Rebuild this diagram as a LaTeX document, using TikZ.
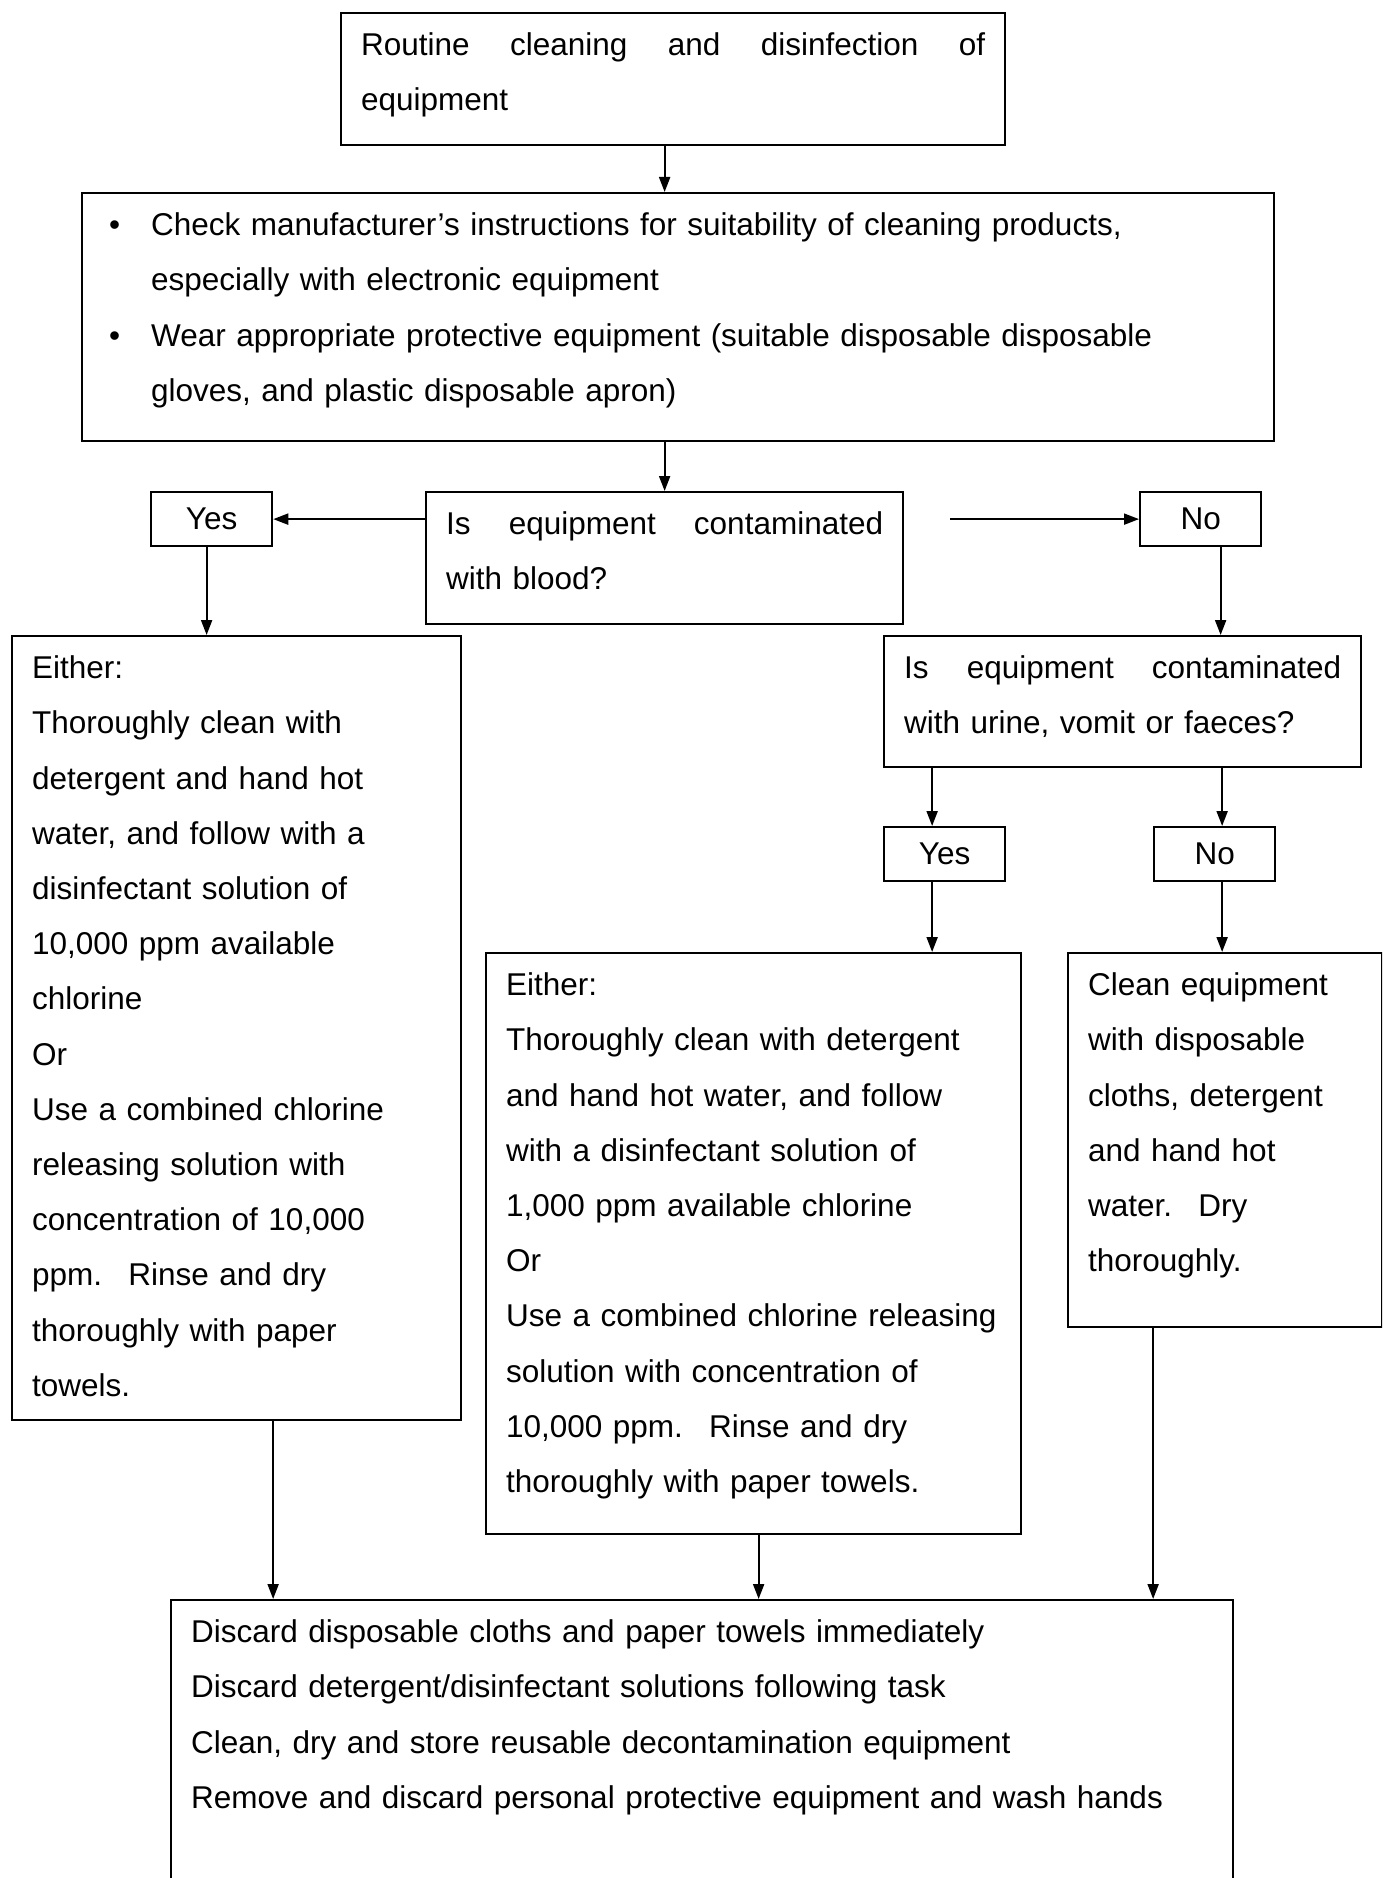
\documentclass[tikz,border=0pt]{standalone}
\usepackage{fontspec}
\setmainfont{Liberation Sans}
\usetikzlibrary{arrows.meta}
\tikzstyle{box}=[draw, line width=0.9pt, anchor=north west, align=left, inner xsep=8pt, inner ysep=8pt, text height=9pt]
\tikzstyle{answer}=[draw, line width=0.9pt, anchor=north west, inner sep=0pt, minimum width=48.4pt, minimum height=21.6pt]
\tikzstyle{link}=[line width=0.8pt, -{Triangle[length=6pt,width=4.4pt]}]
\newcommand{\spread}[1]{\makebox[\hsize][s]{\spaceskip=0.28em plus 1fil #1}}
\newcommand{\bul}{\leavevmode\llap{\makebox[18.8pt][l]{\hspace{2pt}\textbullet}}}

\begin{document}
\begin{tikzpicture}[x=0.4pt, y=-0.4pt, font=\fontsize{12.6}{22.08}\selectfont]
    \clip (0,0) rectangle (1382,1878);
    \fill[white] (0,0) rectangle (1382,1878);

    % first steps
    \node[box, text width=249.6pt, text depth=27.8pt] (start) at (340,12)
      {\spread{Routine cleaning and disinfection of}\\equipment};
    \node[box, text width=460.8pt, text depth=74.2pt] (check) at (81,192)
      {\leftskip=19.6pt
       \bul Check manufacturer’s instructions for suitability of cleaning products,\\
       especially with electronic equipment\\
       \bul Wear appropriate protective equipment (suitable disposable disposable\\
       gloves, and plastic disposable apron)\par};

    % blood question
    \node[box, text width=174.8pt, text depth=27.8pt] (blood) at (425,491)
      {\spread{Is equipment contaminated}\\with blood?};
    \node[answer] (yesa) at (150,491) {Yes};
    \node[answer] (noa) at (1139,491) {No};

    % blood: strong solution
    \node[box, text width=163.6pt, text depth=288.6pt] (strong) at (11,635)
      {Either:\\Thoroughly clean with\\detergent and hand hot\\water, and follow with a\\
       disinfectant solution of\\10,000 ppm available\\chlorine\\Or\\
       Use a combined chlorine\\releasing solution with\\concentration of 10,000\\
       ppm.~ Rinse and dry\\thoroughly with paper\\towels.};

    % body fluids question
    \node[box, text width=174.8pt, text depth=27.4pt] (soil) at (883,635)
      {\spread{Is equipment contaminated}\\with urine, vomit or faeces?};
    \node[answer] (yesb) at (883,826) {Yes};
    \node[answer] (nob) at (1153,826) {No};

    % body fluids: weaker solution / detergent only
    \node[box, text width=198pt, text depth=207.4pt] (weak) at (485,952)
      {Either:\\Thoroughly clean with detergent\\and hand hot water, and follow\\
       with a disinfectant solution of\\1,000 ppm available chlorine\\Or\\
       Use a combined chlorine releasing\\solution with concentration of\\
       10,000 ppm.~ Rinse and dry\\thoroughly with paper towels.};
    \node[box, text width=109.6pt, text depth=124.6pt] (plain) at (1067,952)
      {Clean equipment\\with disposable\\cloths, detergent\\and hand hot\\
       water.~ Dry\\thoroughly.};

    % last steps
    \node[box, text width=408.8pt, text depth=95pt] (finish) at (170,1599)
      {Discard disposable cloths and paper towels immediately\\
       Discard detergent/disinfectant solutions following task\\
       Clean, dry and store reusable decontamination equipment\\
       Remove and discard personal protective equipment and wash hands};

    % connectors
    \coordinate (gap) at ([xshift=-75.6pt]noa.west);
    \draw[link] (start.south -| blood.north) -- (check.north -| blood.north);
    \draw[link] (check.south -| blood.north) -- (blood.north);
    \draw[link] (blood.west |- yesa.east) -- (yesa.east);
    \draw[link] (gap) -- (noa.west);
    \draw[link] ([xshift=-2pt]yesa.south) -- ([xshift=-2pt]yesa.south |- strong.north);
    \draw[link] ([xshift=8pt]noa.south) -- ([xshift=8pt]noa.south |- soil.north);
    \draw[link] ([xshift=-5pt]yesb.north |- soil.south) -- ([xshift=-5pt]yesb.north);
    \draw[link] ([xshift=3pt]nob.north |- soil.south) -- ([xshift=3pt]nob.north);
    \draw[link] ([xshift=-5pt]yesb.south) -- ([xshift=-5pt]yesb.south |- weak.north);
    \draw[link] ([xshift=3pt]nob.south) -- ([xshift=3pt]nob.south |- plain.north);
    \draw[link] ([xshift=14.6pt]strong.south) -- ([xshift=14.6pt]strong.south |- finish.north);
    \draw[link] ([xshift=2pt]weak.south) -- ([xshift=2pt]weak.south |- finish.north);
    \draw[link] ([xshift=-28.8pt]plain.south) -- ([xshift=-28.8pt]plain.south |- finish.north);
\end{tikzpicture}
\end{document}
